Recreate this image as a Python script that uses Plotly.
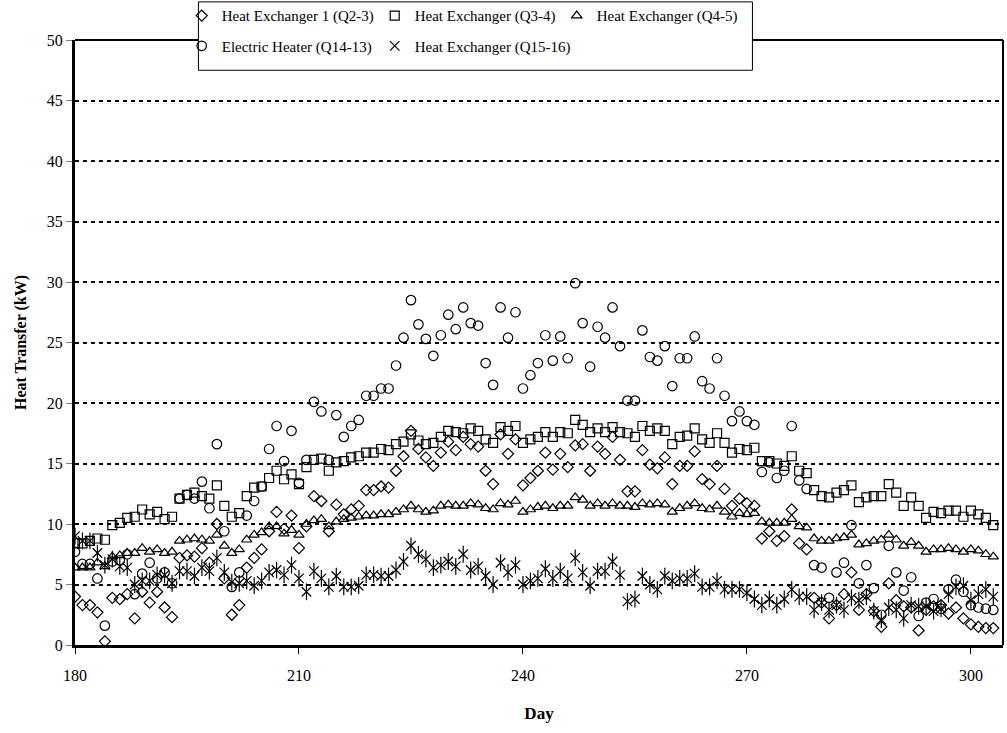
import plotly.graph_objects as go

# Day of year for every sample
days = list(range(180, 304))

# Heat transfer rates (kW)
hx1_q23 = [
    4.0, 3.3, 3.3, 2.7, 0.3, 3.9, 3.8, 4.2, 2.2, 4.4,
    3.5, 4.4, 3.1, 2.3, 7.2, 7.4, 7.3, 8.0, 6.8, 10.0,
    5.5, 2.5, 3.3, 6.4, 7.2, 7.9, 9.4, 11.0, 9.6, 10.7,
    8.0, 9.8, 12.3, 11.9, 9.4, 11.6, 10.8, 11.2, 11.5, 12.8,
    12.8, 13.1, 13.0, 14.4, 15.6, 17.7, 16.2, 15.5, 14.8, 15.9,
    16.8, 16.1, 17.2, 16.6, 16.4, 14.4, 13.3, 17.4, 15.8, 17.0,
    13.2, 13.8, 14.4, 15.9, 14.5, 15.8, 14.7, 16.5, 16.6, 14.4,
    16.4, 15.8, 17.2, 15.3, 12.7, 12.7, 16.1, 14.9, 14.6, 15.5,
    13.3, 14.8, 14.8, 16.0, 13.7, 13.3, 14.8, 12.9, 11.5, 12.1,
    11.7, 11.5, 8.8, 9.4, 8.6, 9.0, 11.2, 8.4, 7.9, 3.9,
    3.5, 2.2, 3.3, 4.2, 6.0, 2.9, 4.2, 2.8, 1.5, 5.1,
    3.7, 3.2, 3.1, 1.2, 2.9, 3.2, 3.3, 2.6, 3.1, 2.2,
    1.7, 1.5, 1.4, 1.4,
]

hx_q34 = [
    8.4, 8.4, 8.6, 8.8, 8.7, 9.9, 10.1, 10.5, 10.6, 11.2,
    10.8, 11.0, 10.4, 10.6, 12.1, 12.4, 12.6, 12.3, 12.1, 13.2,
    11.5, 10.6, 10.9, 12.3, 13.0, 13.1, 13.8, 14.4, 13.7, 14.1,
    13.3, 14.7, 15.3, 15.4, 14.4, 15.1, 15.2, 15.5, 15.6, 15.9,
    15.9, 16.2, 16.1, 16.6, 16.8, 17.4, 16.9, 16.6, 16.7, 17.2,
    17.7, 17.6, 17.5, 17.9, 17.7, 17.0, 16.7, 18.0, 17.7, 18.1,
    16.7, 17.0, 17.2, 17.6, 17.2, 17.6, 17.5, 18.6, 18.2, 17.6,
    17.9, 17.6, 18.0, 17.6, 17.5, 17.2, 18.1, 17.7, 17.9, 17.7,
    16.6, 17.2, 17.3, 17.9, 17.0, 16.7, 17.5, 16.7, 15.9, 16.2,
    16.1, 16.3, 15.2, 15.2, 15.0, 14.8, 15.6, 14.4, 14.2, 12.8,
    12.3, 12.2, 12.6, 12.8, 13.2, 11.8, 12.2, 12.3, 12.3, 13.3,
    12.6, 11.5, 12.2, 11.5, 10.5, 11.0, 10.9, 11.1, 11.1, 10.6,
    11.1, 10.8, 10.5, 9.9,
]

hx_q45 = [
    6.4, 6.4, 6.4, 6.8, 6.5, 7.3, 7.4, 7.6, 7.6, 8.0,
    7.7, 7.9, 7.6, 7.7, 8.6, 8.7, 8.8, 8.7, 8.6, 9.1,
    8.2, 7.6, 7.9, 8.7, 9.1, 9.3, 9.8, 9.8, 9.2, 9.5,
    9.1, 10.0, 10.3, 10.4, 9.8, 10.2, 10.4, 10.5, 10.6, 10.7,
    10.7, 10.8, 10.8, 11.0, 11.2, 11.5, 11.2, 11.0, 11.1, 11.5,
    11.6, 11.5, 11.5, 11.7, 11.6, 11.3, 11.2, 11.7, 11.6, 11.9,
    11.0, 11.2, 11.4, 11.5, 11.3, 11.5, 11.5, 12.2, 12.0, 11.5,
    11.7, 11.5, 11.7, 11.5, 11.5, 11.4, 11.7, 11.6, 11.7, 11.6,
    11.0, 11.3, 11.5, 11.7, 11.3, 11.2, 11.5, 11.0, 10.6, 10.9,
    10.8, 10.9, 10.2, 10.1, 10.1, 10.1, 10.4, 9.8, 9.7, 8.8,
    8.6, 8.6, 8.8, 8.9, 9.1, 8.3, 8.4, 8.6, 8.7, 9.1,
    8.7, 8.2, 8.5, 8.2, 7.7, 7.9, 7.9, 8.0, 7.9, 7.7,
    7.9, 7.8, 7.5, 7.3,
]

heater_q1413 = [
    7.7, 6.7, 6.7, 5.5, 1.6, 6.9, 7.0, 7.5, 4.2, 5.9,
    6.8, 5.5, 6.0, 5.1, 12.1, 12.4, 12.1, 13.5, 11.3, 16.6,
    9.4, 4.8, 6.0, 10.7, 11.9, 13.1, 16.2, 18.1, 15.2, 17.7,
    13.4, 15.3, 20.1, 19.3, 15.3, 19.0, 17.2, 18.1, 18.6, 20.6,
    20.6, 21.2, 21.2, 23.1, 25.4, 28.5, 26.5, 25.3, 23.9, 25.6,
    27.3, 26.1, 27.9, 26.6, 26.4, 23.3, 21.5, 27.9, 25.4, 27.5,
    21.2, 22.3, 23.3, 25.6, 23.5, 25.5, 23.7, 29.9, 26.6, 23.0,
    26.3, 25.4, 27.9, 24.7, 20.2, 20.2, 26.0, 23.8, 23.5, 24.7,
    21.4, 23.7, 23.7, 25.5, 21.8, 21.2, 23.7, 20.6, 18.5, 19.3,
    18.5, 18.2, 14.3, 15.1, 13.8, 14.4, 18.1, 13.6, 12.9, 6.6,
    6.4, 3.9, 6.0, 6.8, 9.9, 5.1, 6.6, 4.7, 2.5, 8.2,
    6.0, 4.5, 5.6, 2.4, 3.5, 3.8, 3.0, 4.6, 5.4, 4.4,
    3.3, 3.1, 3.0, 2.9,
]

hx_q1516 = [
    9.0, 8.6, 8.6, 7.6, 6.6, 7.1, 6.5, 6.4, 5.0, 5.3,
    5.3, 5.8, 5.8, 5.1, 6.1, 6.1, 5.7, 6.4, 6.1, 7.2,
    6.0, 5.2, 5.1, 5.3, 4.9, 5.3, 6.0, 6.2, 5.8, 6.6,
    5.5, 4.4, 6.1, 5.5, 4.8, 5.7, 4.8, 4.8, 4.9, 5.8,
    5.8, 5.7, 5.7, 6.2, 6.9, 8.2, 7.5, 7.1, 6.4, 6.6,
    6.9, 6.5, 7.5, 6.2, 6.5, 5.7, 5.0, 6.8, 6.0, 6.6,
    5.0, 5.3, 5.5, 6.3, 5.5, 6.1, 5.5, 7.2, 6.0, 4.9,
    6.1, 6.1, 6.9, 5.8, 3.6, 3.8, 5.7, 5.0, 4.6, 5.7,
    5.3, 5.5, 5.5, 5.9, 4.8, 4.8, 5.3, 4.6, 4.6, 4.6,
    4.3, 3.8, 3.3, 3.8, 3.3, 3.8, 4.6, 4.0, 4.0, 2.9,
    3.5, 2.9, 3.3, 2.9, 3.9, 3.7, 4.0, 2.8, 2.1, 3.1,
    2.9, 2.2, 3.3, 3.2, 3.2, 2.8, 3.0, 4.2, 4.8, 4.9,
    3.7, 4.2, 4.6, 4.0,
]

FONT = "Liberation Serif, Times New Roman, serif"
INK = "black"

fig = go.Figure()


def add_series(y, name, symbol, size, legend, width_px, showlegend=True):
    fig.add_trace(go.Scatter(
        x=days, y=y, name=name, mode="markers",
        marker=dict(symbol=symbol, size=size, color=INK,
                    line=dict(color=INK, width=1.2)),
        legend=legend, legendwidth=width_px, showlegend=showlegend,
        legendgroup=name,
    ))


add_series(hx1_q23, "Heat Exchanger 1 (Q2-3)", "diamond-open", 8.5, "legend", 148)
add_series(hx_q34, "Heat Exchanger (Q3-4)", "square-open", 9, "legend", 137)
add_series(hx_q45, "Heat Exchanger (Q4-5)", "triangle-up-open", 9, "legend", 150)
add_series(heater_q1413, "Electric Heater (Q14-13)", "circle-open", 9.5, "legend2", 148)
# six-armed star: an "x" plus a vertical bar
add_series(hx_q1516, "Heat Exchanger (Q15-16)", "x-thin-open", 9.5, "legend2", 160)
add_series(hx_q1516, "Heat Exchanger (Q15-16)", "line-ns-open", 12, "legend2", 160,
           showlegend=False)

legend_common = dict(
    orientation="h", xanchor="left", yanchor="middle",
    bgcolor="rgba(0,0,0,0)", borderwidth=0,
    font=dict(family=FONT, size=15, color=INK),
    itemwidth=30, tracegroupgap=0,
)

fig.update_layout(
    width=1007, height=733,
    margin=dict(l=75, r=4, t=40, b=88, autoexpand=False),
    paper_bgcolor="white", plot_bgcolor="white",
    font=dict(family=FONT, size=16, color=INK),
    legend=dict(x=0.115, y=1.040, **legend_common),
    legend2=dict(x=0.115, y=0.990, **legend_common),
    xaxis=dict(
        range=[180, 304.3], tick0=180, dtick=30,
        showgrid=False, zeroline=False,
        showline=True, linecolor=INK, linewidth=3, mirror=False,
        ticks="outside", ticklen=6, tickwidth=1, tickcolor=INK,
        ticklabelstandoff=8,
        tickfont=dict(family=FONT, size=16, color=INK),
        title=dict(text="<b>Day</b>", font=dict(family=FONT, size=17, color=INK),
                   standoff=24),
    ),
    yaxis=dict(
        range=[0, 50], tick0=0, dtick=5,
        showgrid=True, gridcolor=INK, gridwidth=2, griddash="4px,4px",
        zeroline=False,
        showline=True, linecolor=INK, linewidth=3, mirror=False,
        ticks="outside", ticklen=6, tickwidth=1, tickcolor="#808080",
        tickfont=dict(family=FONT, size=16, color=INK),
        title=dict(text="<b>Heat Transfer (kW)</b>",
                   font=dict(family=FONT, size=16, color=INK), standoff=17),
    ),
    shapes=[
        # top and right frame of the plot area
        dict(type="line", xref="paper", yref="paper", x0=0, x1=1, y0=1, y1=1,
             line=dict(color=INK, width=2)),
        dict(type="line", xref="paper", yref="paper", x0=1, x1=1, y0=0, y1=1,
             line=dict(color=INK, width=2)),
        # legend box
        dict(type="rect", xref="paper", yref="paper", layer="above",
             x0=0.133, x1=0.73, y0=0.950, y1=1.063,
             fillcolor="white", line=dict(color=INK, width=1)),
    ],
)

fig.write_html("out.html")
